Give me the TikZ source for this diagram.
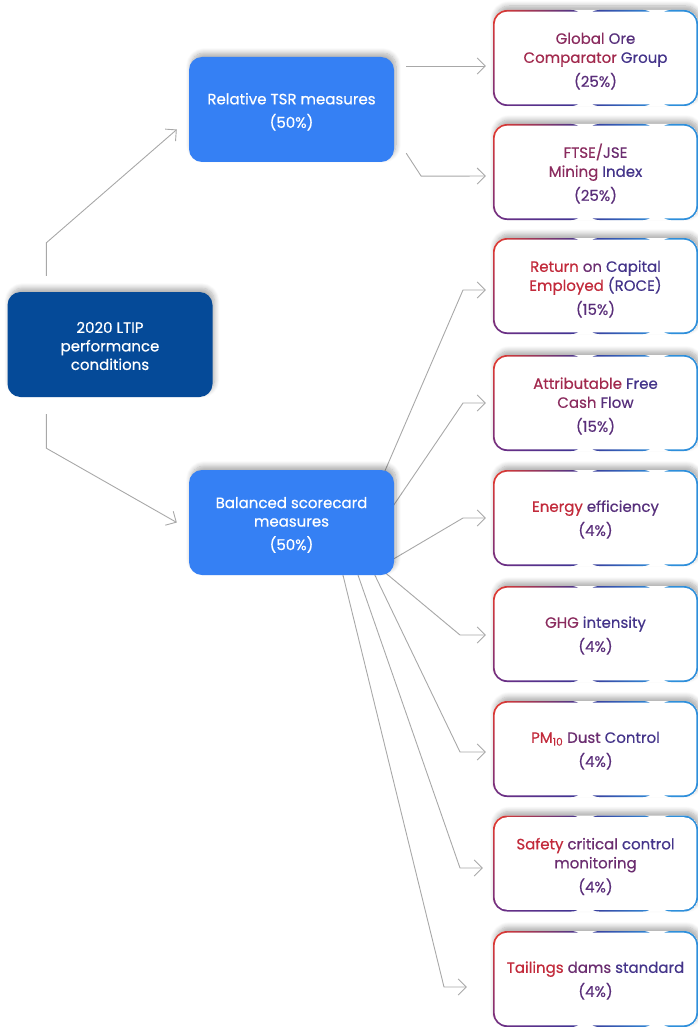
\documentclass[tikz,border=0pt]{standalone}
\usepackage{fontspec}
\setmainfont{Poppins}[FakeBold=0.5]
\usetikzlibrary{arrows.meta,shadows.blur,shadings,backgrounds,calc}
\definecolor{ltipblue}{HTML}{054A98}
\definecolor{boxblue}{HTML}{3580F4}
\definecolor{conncol}{HTML}{A8A8A8}
\definecolor{bred}{HTML}{E8392A}
\definecolor{bpurp}{HTML}{6E2E84}
\definecolor{bnavy}{HTML}{3A3596}
\definecolor{bblue}{HTML}{2E8FDB}
\definecolor{tA}{HTML}{C22A3B}
\definecolor{tB}{HTML}{A2294D}
\definecolor{tC}{HTML}{8A2B5E}
\definecolor{tD}{HTML}{6B2D70}
\definecolor{tE}{HTML}{57307C}
\definecolor{tF}{HTML}{44348A}
\definecolor{tP}{HTML}{5A2E7A}
\newcommand\topgap[1]{\rule{0pt}{#1}}
\begin{document}
\begin{tikzpicture}[x=1pt,y=-1pt,
  shadowed/.style={blur shadow={shadow xshift=2pt, shadow yshift=4pt, shadow opacity=32, shadow blur steps=8, shadow blur radius=5pt}},
  bluebox/.style={shadowed, rounded corners=13pt, minimum width=205pt, minimum height=105pt, inner sep=0pt, text=white, align=center, font=\fontsize{15}{18.5}\selectfont},
  measbox/.style={bluebox, fill=boxblue},
  ltipbox/.style={bluebox, fill=ltipblue},
  gradbox/.style={shadowed, rounded corners=14pt, minimum width=205pt, minimum height=96pt, inner sep=0pt, fill=white, align=center, font=\fontsize{15}{19}\selectfont,
    path picture={
      \coordinate (ppnw) at (path picture bounding box.north west);
      \coordinate (ppse) at (path picture bounding box.south east);
      \coordinate (ppsw) at (path picture bounding box.south west);
      \coordinate (ppne) at (path picture bounding box.north east);
      \shade[upper left=bred, lower left=bpurp, upper right=bnavy, lower right=bnavy] (ppsw) rectangle ($(ppnw)!0.45!(ppne)$);
      \shade[upper left=bnavy, lower left=bnavy, upper right=bblue, lower right=bblue] ($(ppsw)!0.45!(ppse)$) rectangle ($(ppnw)!0.8!(ppne)$);
      \fill[bblue] ($(ppsw)!0.8!(ppse)$) rectangle (ppne);
      \fill[white, rounded corners=12.5pt] ([shift={(1.7pt,1.7pt)}]ppsw) rectangle ([shift={(-1.7pt,-1.7pt)}]ppne);
    }},
  conn/.style={draw=conncol, line width=0.9pt, -{Straight Barb[length=8pt,width=16pt]}}
]
\useasboundingbox (0,0) rectangle (697,1027);

% left column
\node[ltipbox] (ltip) at (110,344.5) {\topgap{14pt}2020 LTIP\\performance\\conditions};
\node[measbox] (tsr) at (291.5,109.5) {\topgap{16pt}Relative TSR measures\\[5pt](50\%)};
\node[measbox] (bal) at (291.5,522.5) {\topgap{16pt}Balanced scorecard\\measures\\[5pt](50\%)};

% right column
\node[gradbox] (r1) at (595.5,58) {\topgap{17.5pt}\color{tC}Global \color{tE}Ore\\\color{tB}Comparator \color{tF}Group\\[5pt]\color{tP}(25\%)};
\node[gradbox] (r2) at (595.5,172) {\topgap{17.5pt}\color{tC}FTSE/\color{tD}JSE\\\color{tC}Mining \color{tF}Index\\[5pt]\color{tP}(25\%)};
\node[gradbox] (r3) at (595.5,286) {\topgap{17.5pt}\color{tA}Return \color{tD}on \color{tF}Capital\\\color{tA}Employed \color{tF}(ROCE)\\[5pt]\color{tP}(15\%)};
\node[gradbox] (r4) at (595.5,403) {\topgap{17.5pt}\color{tB}Attributable \color{tF}Free\\\color{tC}Cash \color{tE}Flow\\[5pt]\color{tP}(15\%)};
\node[gradbox] (r5) at (595.5,518) {\topgap{14.5pt}\color{tA}Energy \color{tE}efficiency\\[5pt]\color{tP}(4\%)};
\node[gradbox] (r6) at (595.5,634) {\topgap{14.5pt}\color{tC}GHG \color{tF}intensity\\[5pt]\color{tP}(4\%)};
\node[gradbox] (r7) at (595.5,749) {\topgap{14.5pt}\color{tA}PM\textsubscript{10} \color{tD}Dust \color{tF}Control\\[5pt]\color{tP}(4\%)};
\node[gradbox] (r8) at (595.5,863.5) {\topgap{17.5pt}\color{tA}Safety \color{tD}critical \color{tF}control\\\color{tD}monitoring\\[5pt]\color{tP}(4\%)};
\node[gradbox] (r9) at (595.5,979) {\topgap{14.5pt}\color{tA}Tailings \color{tD}dams \color{tF}standard\\[5pt]\color{tP}(4\%)};

\begin{pgfonlayer}{background}
\draw[conn] ($(ltip.north west)+(39,-16)$) -- ($(ltip.north west)+(39,-49)$) -- ($(tsr.west)+(-12,20)$);
\draw[conn] ($(ltip.south west)+(39,17)$) -- ($(ltip.south west)+(39,51)$) -- ($(bal.west)+(-12,0)$);
\draw[conn] ($(tsr.east)+(12,-43.5)$) -- ($(r1.west)+(-7,8)$);
\draw[conn] ($(tsr.south east)+(12,-9)$) -- ($(tsr.south east)+(27,14)$) -- ($(r2.west)+(-7,4)$);
\draw[conn] ($(bal.center)+(89.5,-42.5)$) -- (463,290) -- ($(r3.west)+(-7,4)$);
\draw[conn] ($(bal.center)+(93.5,-4.5)$) -- (463,403) -- ($(r4.west)+(-7,0)$);
\draw[conn] ($(bal.center)+(88.5,44.5)$) -- (463,518) -- ($(r5.west)+(-7,0)$);
\draw[conn] ($(bal.center)+(84.5,42.5)$) -- (460,635) -- ($(r6.west)+(-7,1)$);
\draw[conn] ($(bal.center)+(78.5,42.5)$) -- (460,752) -- ($(r7.west)+(-7,3)$);
\draw[conn] ($(bal.center)+(63,42.5)$) -- (460,868) -- ($(r8.west)+(-10,4.5)$);
\draw[conn] ($(bal.center)+(49,42.5)$) -- (444,987) -- ($(r9.west)+(-26,8)$);
\end{pgfonlayer}
\end{tikzpicture}
\end{document}
